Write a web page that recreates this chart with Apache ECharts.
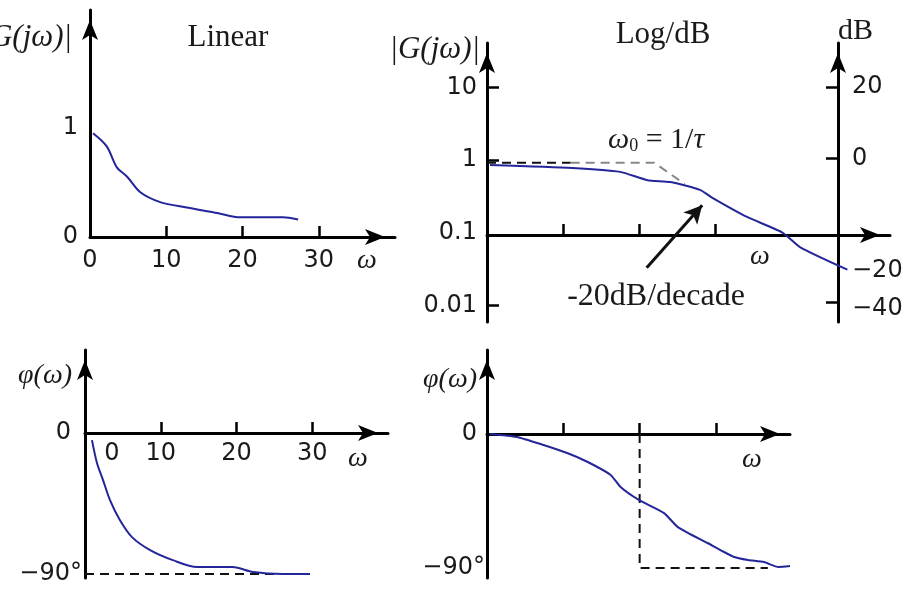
<!DOCTYPE html>
<html>
<head>
<meta charset="utf-8">
<title>Bode plots</title>
<script src="https://cdn.jsdelivr.net/npm/echarts@6/dist/echarts.min.js"></script>
</head>
<body style="margin:0;padding:0">
<div id="main" style="width:904px;height:591px;"></div>
<script type="text/javascript">
var chart = echarts.init(document.getElementById('main'));

// top-left: |G| on linear axes
var linW = [0.4, 2.2, 3.5, 4.9, 6.6, 9.2, 12.7, 16.7, 19.7, 25.3, 27.3];
var linMag = [0.95, 0.83, 0.64, 0.55, 0.41, 0.32, 0.27, 0.22, 0.18, 0.18, 0.16];
var linTicks = [0, 10, 20, 30];

// top-right: |G| on log axes (w counted in decades from the origin)
var logW = [0.04, 1.12, 1.75, 2.11, 2.41, 2.80, 2.97, 3.42, 3.89, 4.12, 4.74];
var logMag = [0.86, 0.78, 0.69, 0.53, 0.50, 0.39, 0.30, 0.165, 0.10, 0.063, 0.031];
var asymW = [0, 1.1, 2.2, 2.6];
var asymMag = [0.92, 0.92, 0.92, 0.47];
var magTicks = [10, 1, 0.1, 0.01];
var dbTicks = [20, 0, -20, -40];
var decadeTicks = [1, 2, 3];
var arrowFrom = [2.1, 0.033];
var arrowTo = [2.83, 0.24];

// bottom-left: phase, linear w
var phW = [0.92, 1.58, 2.38, 3.3, 4.6, 6.2, 8.6, 11.6, 14.8, 19.5, 22.2, 26.1, 29.7];
var phDeg = [-4.5, -19.1, -30, -42.8, -55.5, -66.4, -74.7, -81.1, -85.5, -85.5, -88.7, -90, -90];
var phAsymW = [0, 25.3];
var phAsymDeg = [-90, -90];

// bottom-right: phase, log w
var lphW = [0.04, 0.39, 0.7, 1.05, 1.32, 1.62, 1.75, 1.99, 2.32, 2.5, 2.89, 3.24, 3.42, 3.63, 3.82, 3.97];
var lphDeg = [0, -2, -6.7, -12.8, -18.8, -27.5, -35.6, -44.3, -53.1, -62.5, -73.2, -82.6, -84.6, -86, -89.3, -88.7];
var cornerW = [2, 2, 3.68];
var cornerDeg = [0, -90, -90];
var phaseTicks = [0, -90];

function pairs(xs, ys) {
  return xs.map(function (x, i) { return [x, ys[i]]; });
}
function minus(v) {
  return v < 0 ? '\u2212' + Math.abs(v) : String(v);
}

var ink = '#1a1a1a';
var numFont = {fontFamily: 'DejaVu Sans', fontSize: 24, color: ink};
var italic = {fontFamily: 'Liberation Serif', fontStyle: 'italic', fontSize: 28, color: ink};
var bigItalic = {fontFamily: 'Liberation Serif', fontStyle: 'italic', fontSize: 31, color: ink};
var blue = {color: '#25259a', width: 2};

function axisLine() {
  return {
    show: true, onZero: false,
    symbol: ['none', 'arrow'], symbolSize: [12, 20], symbolOffset: [0, -10],
    lineStyle: {color: '#000', width: 3}
  };
}
function ticks(vals, len) {
  if (!vals) return {show: false};
  return {show: true, inside: true, length: len || 11, customValues: vals,
    lineStyle: {color: '#000', width: 2.5}};
}
function label(vals, margin, extra) {
  return Object.assign({customValues: vals, margin: margin}, numFont, extra || {});
}
function name(align, vAlign, pad, base) {
  return Object.assign({}, base || italic, {align: align, verticalAlign: vAlign, padding: pad});
}
function curve(xi, yi, xs, ys, style, smooth) {
  return {
    type: 'line', xAxisIndex: xi, yAxisIndex: yi, data: pairs(xs, ys),
    showSymbol: false, symbol: 'none', smooth: smooth, clip: false,
    lineStyle: style, silent: true
  };
}
function dashed(color) {
  return {color: color || '#111', width: 2, type: [9, 6]};
}

var option = {
  animation: false,
  backgroundColor: '#fff',
  grid: [
    {left: 90, top: 10, width: 305, height: 227, outerBoundsMode: 'none', containLabel: false},
    {left: 487, top: 43, width: 403, height: 279, outerBoundsMode: 'none', containLabel: false},
    {left: 85, top: 350, width: 303, height: 228, outerBoundsMode: 'none', containLabel: false},
    {left: 487, top: 350, width: 303, height: 228, outerBoundsMode: 'none', containLabel: false}
  ],
  xAxis: [
    {
      gridIndex: 0, type: 'value', min: 0, max: 40, splitLine: {show: false},
      axisLine: axisLine(), axisTick: ticks([10, 20, 30]),
      axisLabel: label(linTicks, 12),
      name: 'ω', nameLocation: 'end', nameGap: -28,
      nameTextStyle: name('center', 'top', [10, 0, 0, 0])
    },
    {
      gridIndex: 1, type: 'value', min: 0, max: 5.3, offset: -87, splitLine: {show: false},
      axisLine: axisLine(), axisTick: ticks(decadeTicks),
      axisLabel: {show: false},
      name: 'ω', nameLocation: 'end', nameGap: -130,
      nameTextStyle: name('center', 'top', [8, 0, 0, 0])
    },
    {
      gridIndex: 2, type: 'value', min: 0, max: 40, offset: -145, splitLine: {show: false},
      axisLine: axisLine(), axisTick: ticks([10, 20, 30]),
      axisLabel: label(linTicks, 9, {
        formatter: function (v) { return v === 0 ? '{z|0}' : String(v); },
        rich: {z: {fontFamily: 'DejaVu Sans', fontSize: 24, color: ink, padding: [0, 0, 0, 54]}}
      }),
      name: 'ω', nameLocation: 'end', nameGap: -30,
      nameTextStyle: name('center', 'top', [12, 0, 0, 0])
    },
    {
      gridIndex: 3, type: 'value', min: 0, max: 3.97, offset: -144, splitLine: {show: false},
      axisLine: axisLine(), axisTick: ticks(decadeTicks),
      axisLabel: {show: false},
      name: 'ω', nameLocation: 'end', nameGap: -38,
      nameTextStyle: name('center', 'top', [12, 0, 0, 0])
    }
  ],
  yAxis: [
    {
      gridIndex: 0, type: 'value', min: 0, max: 2.08, splitLine: {show: false},
      axisLine: axisLine(), axisTick: ticks(null),
      axisLabel: label([0, 1], 12, {padding: [6, 0, 0, 0]}),
      name: '|G(jω)|', nameLocation: 'end', nameGap: -28,
      nameTextStyle: name('right', 'middle', [0, 18, 0, 0], bigItalic)
    },
    {
      gridIndex: 1, type: 'log', min: 0.0059, max: 41.1, splitLine: {show: false},
      axisLine: axisLine(), axisTick: ticks([10, 1, 0.01], 12),
      axisLabel: label(magTicks, 10, {
        padding: [8, 0, 0, 0],
        formatter: function (v) { return String(parseFloat(Number(v).toPrecision(6))); }
      }),
      name: '|G(jω)|', nameLocation: 'end', nameGap: -7,
      nameTextStyle: name('right', 'middle', [0, 7, 0, 0], bigItalic)
    },
    {
      gridIndex: 1, type: 'value', position: 'right', offset: -52,
      min: -45.57, max: 32.29, splitLine: {show: false},
      axisLine: axisLine(), axisTick: ticks([20, 0, -40], 12),
      axisLabel: label(dbTicks, 14, {
        formatter: function (v) {
          if (v === -20) return '{lo|' + minus(v) + '}';
          if (v === -40) return '{lo2|' + minus(v) + '}';
          return minus(v);
        },
        rich: {
          lo: {fontFamily: 'DejaVu Sans', fontSize: 24, color: ink, padding: [80, 0, 0, 0]},
          lo2: {fontFamily: 'DejaVu Sans', fontSize: 24, color: ink, padding: [14, 0, 0, 0]}
        }
      }),
      name: 'dB', nameLocation: 'end', nameGap: 12,
      nameTextStyle: name('left', 'middle', [0, 0, 0, 0],
        {fontFamily: 'Liberation Serif', fontSize: 30, color: ink})
    },
    {
      gridIndex: 2, type: 'value', min: -92.5, max: 53, splitLine: {show: false},
      axisLine: axisLine(), axisTick: ticks(null),
      axisLabel: label(phaseTicks, 3, {
        formatter: function (v) { return v === 0 ? '{p|0}' : minus(v) + '°'; },
        rich: {p: {fontFamily: 'DejaVu Sans', fontSize: 24, color: ink, padding: [0, 11, 0, 0]}}
      }),
      name: 'φ(ω)', nameLocation: 'end', nameGap: -26,
      nameTextStyle: name('right', 'middle', [0, 13, 0, 0])
    },
    {
      gridIndex: 3, type: 'value', min: -96.7, max: 56.4, splitLine: {show: false},
      axisLine: axisLine(), axisTick: ticks(null),
      axisLabel: label(phaseTicks, 2, {
        formatter: function (v) { return v === 0 ? '{p|0}' : minus(v) + '°'; },
        rich: {p: {fontFamily: 'DejaVu Sans', fontSize: 24, color: ink, padding: [0, 8, 0, 0]}}
      }),
      name: 'φ(ω)', nameLocation: 'end', nameGap: -30,
      nameTextStyle: name('right', 'middle', [0, 10, 0, 0])
    }
  ],
  series: [
    curve(0, 0, linW, linMag, blue, 0.3),
    curve(1, 1, asymW.slice(0, 2), asymMag.slice(0, 2), dashed('#111'), false),
    curve(1, 1, asymW.slice(1), asymMag.slice(1), dashed('#888'), false),
    Object.assign(curve(1, 1, logW, logMag, blue, 0.2), {
      markLine: {
        silent: true, symbol: ['none', 'arrow'], symbolSize: [14, 18],
        label: {show: false},
        lineStyle: {color: '#111', width: 3, type: 'solid'},
        data: [[{coord: arrowFrom}, {coord: arrowTo}]]
      }
    }),
    curve(2, 3, phAsymW, phAsymDeg, dashed('#111'), false),
    curve(2, 3, phW, phDeg, blue, 0.3),
    curve(3, 4, cornerW, cornerDeg, dashed('#111'), false),
    curve(3, 4, lphW, lphDeg, blue, 0.2)
  ],
  graphic: [
    {type: 'text', x: 228, y: 38, silent: true,
      style: {text: 'Linear', font: '31px "Liberation Serif"', fill: ink, align: 'center', verticalAlign: 'middle'}},
    {type: 'text', x: 663, y: 35, silent: true,
      style: {text: 'Log/dB', font: '31px "Liberation Serif"', fill: ink, align: 'center', verticalAlign: 'middle'}},
    {type: 'text', x: 608, y: 140, silent: true,
      style: {
        text: '{w|ω}{s|0}{n| = 1/}{w|τ}', align: 'left', verticalAlign: 'middle',
        rich: {
          w: {fontFamily: 'Liberation Serif', fontStyle: 'italic', fontSize: 30, fill: ink},
          s: {fontFamily: 'Liberation Serif', fontSize: 18, fill: ink, verticalAlign: 'bottom'},
          n: {fontFamily: 'Liberation Serif', fontSize: 30, fill: ink}
        }
      }},
    {type: 'text', x: 656, y: 297, silent: true,
      style: {text: '-20dB/decade', font: '32px "Liberation Serif"', fill: ink, align: 'center', verticalAlign: 'middle'}}
  ]
};

chart.setOption(option);
</script>
</body>
</html>
